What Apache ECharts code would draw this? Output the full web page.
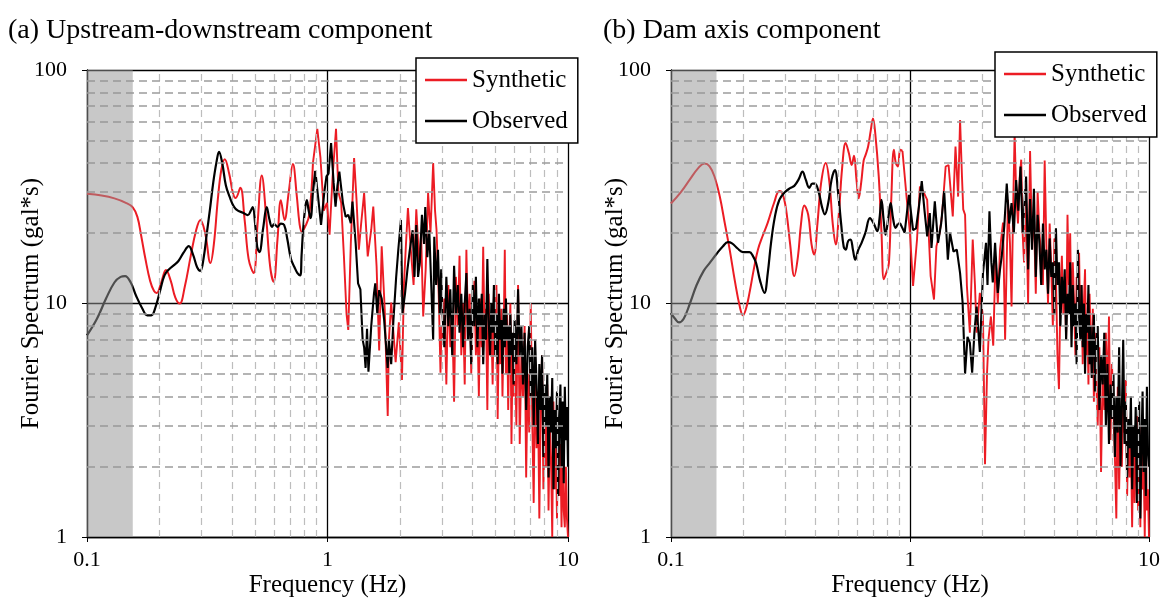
<!DOCTYPE html>
<html><head><meta charset="utf-8">
<script src="https://cdn.jsdelivr.net/npm/echarts@6/dist/echarts.min.js"></script>
<style>html,body{margin:0;padding:0;background:#fff}#c{width:1163px;height:603px}</style>
</head><body><div id="c"></div>
<script>
// ---------- DATA ----------
const titles = ['(a) Upstream-downstream component', '(b) Dam axis component'];
const seriesNames = ['Synthetic', 'Observed'];
const xTicksMinor = [0.2,0.3,0.4,0.5,0.6,0.7,0.8,0.9,2,3,4,5,6,7,8,9];
const yTicksMinor = [2,3,4,5,6,7,8,9,20,30,40,50,60,70,80,90];
const bandRange = [0.1, 0.155];

// frequency grid for the dense high-frequency part (Hz)
const hiFreq = [
3.00,3.06,3.12,3.18,3.24,3.30,3.36,3.42,3.48,3.54,
3.60,3.66,3.72,3.78,3.84,3.90,3.96,4.02,4.08,4.14,
4.20,4.26,4.32,4.38,4.44,4.50,4.56,4.62,4.68,4.74,
4.80,4.86,4.92,4.98,5.04,5.10,5.16,5.22,5.28,5.34,
5.40,5.46,5.52,5.58,5.64,5.70,5.76,5.82,5.88,5.94,6.00,
6.1,6.2,6.3,6.4,6.5,6.6,6.7,6.8,6.9,7.0,
7.1,7.2,7.3,7.4,7.5,7.6,7.7,7.8,7.9,8.0,
8.1,8.2,8.3,8.4,8.5,8.6,8.7,8.8,8.9,9.0,
9.1,9.2,9.3,9.4,9.5,9.6,9.7,9.8,9.9,10.0];

// ---- Panel (a) ----
const aSynLow = [[0.1,29.5],[0.115,29],[0.13,28.2],[0.145,27],[0.155,25.8],[0.162,23.5],[0.168,19.5],[0.175,15.5],[0.183,12.5],[0.19,11.3],[0.195,11.1],[0.203,12.2],[0.213,13.9],[0.223,12.5],[0.233,10.6],[0.243,10.0],[0.255,11.8],[0.27,16],[0.284,20.5],[0.296,22.8],[0.31,20],[0.326,14.9],[0.337,18],[0.35,28],[0.362,37.5],[0.374,41.5],[0.39,36],[0.405,29.5],[0.415,28.3],[0.434,31.3],[0.452,23],[0.47,15.5],[0.493,13.5],[0.512,22],[0.533,35.3],[0.555,24],[0.577,14.5],[0.597,12.4],[0.62,19],[0.64,27.7],[0.663,22.8],[0.69,30],[0.718,39.6],[0.745,29],[0.765,22],[0.782,20.3],[0.81,21.5],[0.84,24],[0.87,40]];
const aSynMid = [[0.87,40],[0.907,56],[0.935,42],[0.965,25],[0.995,27],[1.02,19.7],[1.05,35],[1.085,56],[1.11,30],[1.14,27],[1.17,16],[1.2,9],[1.22,7.7],[1.25,18],[1.29,42],[1.32,28],[1.35,17],[1.38,22],[1.42,29.7],[1.47,15.9],[1.52,20.7],[1.55,26],[1.6,14.4],[1.64,6.3],[1.68,17.6],[1.73,9.4],[1.78,3.3],[1.8,7.0],[1.84,10.1],[1.92,5.6],[1.98,8.3],[2.04,4.7],[2.08,12.2],[2.12,18],[2.16,25.6],[2.22,17],[2.28,12],[2.34,25.3],[2.41,14.4],[2.45,20],[2.5,8.8],[2.56,14],[2.62,29.7],[2.68,20],[2.75,40],[2.8,25],[2.84,20.7],[2.9,11],[2.95,5.05],[2.98,8]];
const aSynHi = [
7,10.5,4.5,12,6.5,9,3.8,13,8,16,
6,10,4.5,17,7.5,11,5,9,12.5,6,
8.5,4,10.5,6.5,17.5,7,9.5,3.5,11,6,
8.5,4.5,10,6,12,3.2,8,5.5,9.5,4,
7.5,17,5,9,3.5,7,10,2.5,6,4,7.5,
3,12,2.5,6,4,8,1.8,5,2.8,10,
3.2,1.4,5.5,2.4,4,1.2,3.5,6,1.6,3,
2,4.5,1.3,3,2.2,1,3.8,1.6,2.7,1.2,
3.2,1.5,2.5,1.1,2.8,1.3,1.1,2,1.2,1.0];
const aObsLow = [[0.1,7.3],[0.11,8.6],[0.12,10.5],[0.13,12.3],[0.138,13.0],[0.144,13.1],[0.152,12.3],[0.16,10.8],[0.17,9.5],[0.178,8.9],[0.185,8.9],[0.193,9.7],[0.202,11.5],[0.21,13.2],[0.219,14.0],[0.23,14.6],[0.24,15.2],[0.252,16.5],[0.265,17.6],[0.276,16.2],[0.287,14.3],[0.296,13.8],[0.305,15.5],[0.315,20],[0.324,25],[0.335,33],[0.345,40],[0.354,44.6],[0.365,40],[0.378,32],[0.392,28.6],[0.408,26],[0.424,25],[0.445,24.5],[0.466,23.9],[0.48,25],[0.489,25.9],[0.5,22],[0.51,17.5],[0.521,16.6],[0.54,21],[0.559,25.9],[0.573,23],[0.588,21.3],[0.6,21.9],[0.62,21.3],[0.64,22],[0.66,21.7],[0.68,19],[0.705,15.5],[0.729,14.3],[0.75,13.5],[0.77,13.2],[0.78,16],[0.79,20],[0.805,25],[0.82,27.7],[0.835,25],[0.85,23.2],[0.87,30],[0.89,37]];
const aObsMid = [[0.89,37],[0.94,21.7],[0.97,30],[0.99,35],[1.01,36],[1.035,48.6],[1.06,33],[1.08,26],[1.1,32],[1.12,36.7],[1.16,26.8],[1.19,23.5],[1.22,24],[1.25,22.1],[1.27,27.3],[1.31,18],[1.34,12.2],[1.37,11.5],[1.40,7.0],[1.42,6.5],[1.44,5.3],[1.46,7.8],[1.48,5.1],[1.52,8],[1.56,11],[1.58,12.2],[1.61,9.1],[1.64,11.4],[1.68,10.5],[1.72,8.5],[1.78,5.3],[1.8,7.0],[1.84,5.5],[1.88,8.5],[1.93,13],[1.97,17],[2.02,22.8],[2.05,9.1],[2.1,11],[2.15,14],[2.2,17],[2.26,20.6],[2.3,13],[2.34,21.7],[2.38,13],[2.42,15],[2.47,24],[2.52,18],[2.55,25.9],[2.6,15.8],[2.65,20.6],[2.7,12],[2.75,7.0],[2.78,19.3],[2.83,12],[2.88,17],[2.93,9],[2.97,14]];
const aObsHi = [
9.5,6.5,13,8,11.5,6,14.5,9,12,7.5,
11,6.5,10,13.5,7,9.5,5.5,12,8,13,
6.5,10.5,8,11,5.5,9,7,15.5,8.5,6,
10,7.5,12,6,9,5.5,11,7,8.5,5,
9.5,6.5,10.5,7,8,5,9,6,7.5,4.5,8.5,
5.5,11.5,6,8,4.5,7.5,3.5,6.5,8,4,
6.5,3,7,4.5,2.5,5.5,3.5,6,2.2,4.5,
3,5,1.8,4,2.8,4.8,1.6,3.5,2.4,4.2,
1.5,3.2,4.5,2,3.8,1.7,4.4,2.6,3.6,2.0];

// ---- Panel (b) ----
const bSynLow = [[0.1,26.8],[0.11,30],[0.12,34],[0.13,38],[0.138,39.8],[0.145,38.7],[0.152,35],[0.16,28.7],[0.168,22],[0.176,17],[0.185,12.5],[0.194,9.7],[0.2,8.9],[0.206,9.5],[0.213,11.1],[0.222,14],[0.231,17],[0.242,19.5],[0.254,22.2],[0.27,27],[0.284,30.3],[0.293,29.5],[0.303,25.3],[0.315,18],[0.328,13.1],[0.34,16],[0.35,22],[0.361,26.3],[0.375,24],[0.387,18],[0.397,16.2],[0.41,22],[0.425,33],[0.444,40],[0.46,33],[0.475,22],[0.489,17.9],[0.505,25],[0.52,38],[0.538,48.7],[0.555,44],[0.57,39.2],[0.583,42.9],[0.597,34],[0.61,28.2],[0.625,33],[0.64,41],[0.652,43.3],[0.668,47],[0.685,55],[0.7,62],[0.715,54],[0.74,35],[0.76,20],[0.777,12.7],[0.795,13.5],[0.816,14.9],[0.835,28],[0.856,45.5],[0.872,40],[0.89,38.6],[0.91,45.5],[0.93,45]];
const bSynMid = [[0.93,45],[0.97,27.8],[1.0,20],[1.03,11.9],[1.07,18.8],[1.1,31.7],[1.14,30],[1.18,27.8],[1.22,13.1],[1.26,10.4],[1.29,17.6],[1.33,20],[1.36,23.6],[1.41,38.6],[1.45,39.2],[1.51,23.6],[1.55,47],[1.59,28.7],[1.62,61],[1.65,35],[1.67,25.3],[1.7,24],[1.73,11.9],[1.78,7.5],[1.83,18.8],[1.87,12],[1.9,7.5],[1.96,11.1],[2.02,8.8],[2.06,2.05],[2.1,5],[2.13,7.0],[2.18,8.8],[2.23,6.6],[2.28,15.9],[2.33,10],[2.38,17],[2.45,22.2],[2.5,7.0],[2.57,27.8],[2.62,18],[2.66,9.7],[2.7,25],[2.74,53.6],[2.78,30],[2.83,22],[2.88,35],[2.92,41.3],[2.96,20]];
const bSynHi = [
15,28,10,45,18,24,11,30,20,16,
12,41,18,10,22,14,8,19,13,6,
4.3,11,16,9,13,7,24,12,20,8,
15,10,6,13,9,16.5,7.5,12,5.5,10,
14,6,9,4.5,11,7,5,9.5,3.8,7.5,5,
3,6.5,1.9,5,3.5,7.5,4,8.8,2.6,5.5,
3.5,2.2,1.2,4.4,1.6,3.2,2,3.8,2.8,4.7,
1.5,3,1.8,2.6,1.1,2.8,1.4,2.2,3.3,1.3,
2.4,1.1,3,1.6,2,1,2.6,1.3,1.6,1.0];
const bObsLow = [[0.1,9.1],[0.104,8.6],[0.108,8.3],[0.113,8.6],[0.12,10],[0.128,12],[0.137,13.8],[0.145,14.9],[0.155,16.3],[0.165,17.6],[0.173,18.3],[0.18,18.1],[0.19,17.2],[0.2,16.6],[0.213,16.6],[0.22,16],[0.227,14.9],[0.236,12.5],[0.246,11.1],[0.254,13.5],[0.262,18.1],[0.272,23.5],[0.284,27.8],[0.3,30],[0.315,31.2],[0.328,31.9],[0.342,34],[0.355,36.7],[0.366,34],[0.379,31.3],[0.39,32.6],[0.4,32.6],[0.415,30],[0.428,26],[0.44,24.1],[0.455,27],[0.47,34],[0.485,37.3],[0.5,30],[0.515,22],[0.528,17.5],[0.538,17],[0.551,18.5],[0.564,18.8],[0.577,17],[0.59,15.4],[0.608,17],[0.626,18.1],[0.65,20],[0.68,23.2],[0.705,22],[0.73,20.4],[0.745,23],[0.76,27.8],[0.775,23],[0.79,19.7],[0.81,23],[0.83,26.9],[0.85,23],[0.87,21.1],[0.89,22]];
const bObsMid = [[0.89,22],[0.91,22],[0.95,20.1],[0.99,29.2],[1.03,20.6],[1.06,21],[1.09,26],[1.12,33.4],[1.15,25],[1.18,19.4],[1.21,24.4],[1.23,17.3],[1.27,27.4],[1.31,18.2],[1.35,22],[1.39,30.3],[1.44,15.4],[1.47,20.1],[1.52,16.7],[1.57,17],[1.62,13.5],[1.66,10.1],[1.70,5.0],[1.74,7.2],[1.78,6.8],[1.82,5.06],[1.86,7.5],[1.9,9.7],[1.96,6.2],[2.02,13.5],[2.08,18.2],[2.11,12],[2.15,24.8],[2.19,15],[2.22,12.3],[2.27,18.2],[2.33,11.1],[2.38,14],[2.42,15.9],[2.48,21.4],[2.54,32.6],[2.6,22],[2.66,26.9],[2.72,20],[2.78,33.8],[2.84,25],[2.9,38.6],[2.96,20.1]];
const bObsHi = [
20,35,14,28,17,31,13,24,18,12,
22,14,17,11,19,13,15,9,21,12,
15,8,13,10,14,7,11,9,15,6.5,
12,8,10,5.5,17,9,7,12,6.5,10,
5,9,7.5,12,5.5,8,4.8,7,9,4.2,6.5,
8,3.5,6,4.5,7.5,3,5.5,2.5,4.5,3.2,
5,2.2,4,2.8,6.5,2,3.5,7,2.5,3.8,
1.8,3.2,2.4,4,1.6,3,2.2,3.6,1.4,2.8,
3.8,1.2,2.5,4.2,1.9,3.2,1.5,4.4,2.4,2.0];

// ---------- CHART ----------
const FONT = "'Liberation Serif','Times New Roman',serif";
const RED = '#ec1c24', BLACK = '#000000';
const zipHi = (vals) => hiFreq.map((f, i) => [f, vals[i]]);

const grids = [
  {left: 87, right: 595, top: 70, bottom: 65},
  {left: 671, right: 11, top: 70, bottom: 65}
];
const panels = [
  {syn: [aSynLow, aSynMid.concat(zipHi(aSynHi))], obs: [aObsLow, aObsMid.concat(zipHi(aObsHi))]},
  {syn: [bSynLow, bSynMid.concat(zipHi(bSynHi))], obs: [bObsLow, bObsMid.concat(zipHi(bObsHi))]}
];

const xAxes = [], yAxes = [], series = [];
grids.forEach((g, i) => {
  xAxes.push({
    type: 'log', logBase: 10, gridIndex: i, min: 0.1, max: 10,
    name: 'Frequency (Hz)', nameLocation: 'middle', nameGap: 36, nameMoveOverlap: false,
    nameTextStyle: {fontFamily: FONT, fontSize: 25, color: '#000'},
    axisLine: {show: true, lineStyle: {color: '#000', width: 1.3}},
    axisTick: {show: true, length: 5, lineStyle: {color: '#000'}},
    axisLabel: {fontFamily: FONT, fontSize: 22, color: '#000', margin: 12},
    splitLine: {show: true, lineStyle: {color: '#000', width: 1.3}},
    minorTick: {show: false}, minorSplitLine: {show: false}
  });
  yAxes.push({
    type: 'log', logBase: 10, gridIndex: i, min: 1, max: 100,
    name: 'Fourier Spectrum (gal*s)', nameLocation: 'middle', nameGap: 43, nameRotate: 90,
    nameMoveOverlap: false,
    nameTextStyle: {fontFamily: FONT, fontSize: 25, color: '#000'},
    axisLine: {show: true, lineStyle: {color: '#000', width: 1.3}},
    axisTick: {show: true, length: 5, lineStyle: {color: '#000'}},
    axisLabel: {fontFamily: FONT, fontSize: 22, color: '#000', margin: 20},
    splitLine: {show: true, lineStyle: {color: '#000', width: 1.3}},
    minorTick: {show: false}, minorSplitLine: {show: false}
  });
  // minor dashed grid lines
  series.push({
    type: 'line', xAxisIndex: i, yAxisIndex: i, data: [], z: 1, silent: true,
    markLine: {
      silent: true, symbol: ['none', 'none'], label: {show: false}, animation: false,
      data: xTicksMinor.map(v => ({xAxis: v, lineStyle: {color: '#bdbdbd', width: 1.2, type: [7, 5]}}))
        .concat(yTicksMinor.map(v => ({yAxis: v, lineStyle: {color: '#9c9c9c', width: 1.5, type: [8, 5]}})))
    }
  });
  const p = panels[i];
  series.push({type: 'line', name: seriesNames[0], xAxisIndex: i, yAxisIndex: i, data: p.syn[0], smooth: 0.4, symbol: 'none', z: 3, lineStyle: {color: RED, width: 2}, itemStyle: {color: RED}});
  series.push({type: 'line', name: seriesNames[0], xAxisIndex: i, yAxisIndex: i, data: p.syn[1], smooth: false, symbol: 'none', z: 3, lineStyle: {color: RED, width: 1.9}, itemStyle: {color: RED}});
  series.push({type: 'line', name: seriesNames[1], xAxisIndex: i, yAxisIndex: i, data: p.obs[0], smooth: 0.4, symbol: 'none', z: 4, lineStyle: {color: BLACK, width: 2.2}, itemStyle: {color: BLACK}});
  series.push({type: 'line', name: seriesNames[1], xAxisIndex: i, yAxisIndex: i, data: p.obs[1], smooth: false, symbol: 'none', z: 4, lineStyle: {color: BLACK, width: 2.1}, itemStyle: {color: BLACK}});
  // shaded low-frequency band (semi-transparent, drawn over the curves)
  series.push({
    type: 'custom', xAxisIndex: i, yAxisIndex: i, z: 10, silent: true,
    data: [[bandRange[0], bandRange[1]]],
    renderItem: function (params, api) {
      const p0 = api.coord([api.value(0), 100]);
      const p1 = api.coord([api.value(1), 1]);
      return {type: 'rect', shape: {x: p0[0], y: p0[1], width: p1[0] - p0[0], height: p1[1] - p0[1]},
        style: {fill: 'rgba(150,150,150,0.52)'}};
    }
  });
});

const legendBase = {
  orient: 'vertical', data: seriesNames, icon: 'rect',
  itemWidth: 42, itemHeight: 2.4, itemGap: 15,
  backgroundColor: '#fff', borderColor: '#000', borderWidth: 1.5, borderRadius: 0,
  padding: [9, 10, 9, 9],
  textStyle: {fontFamily: FONT, fontSize: 25, color: '#000', lineHeight: 26, height: 26},
  selectedMode: false, z: 20
};

const option = {
  animation: false,
  backgroundColor: '#fff',
  title: [
    {text: titles[0], left: 3, top: 12, textStyle: {fontFamily: FONT, fontSize: 28, fontWeight: 'normal', color: '#000'}},
    {text: titles[1], left: 598, top: 12, textStyle: {fontFamily: FONT, fontSize: 28, fontWeight: 'normal', color: '#000'}}
  ],
  legend: [
    Object.assign({}, legendBase, {left: 416, top: 58}),
    Object.assign({}, legendBase, {left: 995, top: 52})
  ],
  grid: grids,
  xAxis: xAxes,
  yAxis: yAxes,
  series: series
};

const chart = echarts.init(document.getElementById('c'), null, {renderer: 'canvas'});
chart.setOption(option);
</script></body></html>
